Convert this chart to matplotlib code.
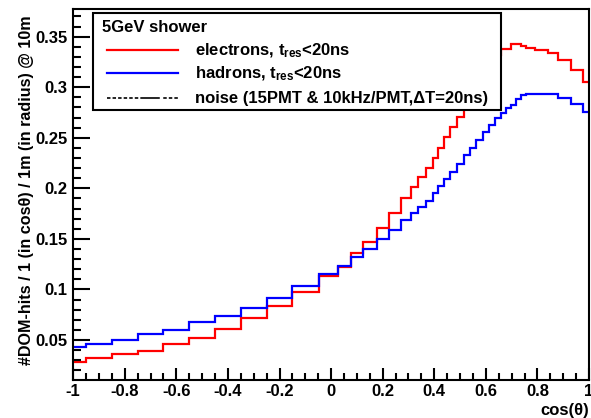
import matplotlib
matplotlib.use('Agg')
import matplotlib.pyplot as plt
from matplotlib.lines import Line2D
from matplotlib.patches import Rectangle
from matplotlib.ticker import MultipleLocator, FuncFormatter

# bin edges in cos(theta)
edges = [-1.0, -0.95, -0.85, -0.75, -0.65, -0.55, -0.45, -0.35, -0.25, -0.15,
         -0.045, 0.026, 0.078, 0.123, 0.177, 0.224, 0.271, 0.311, 0.336, 0.369,
         0.394, 0.414, 0.438, 0.460, 0.489, 0.514, 0.538, 0.563, 0.588, 0.612,
         0.634, 0.660, 0.680, 0.699, 0.718, 0.737, 0.757, 0.789, 0.841, 0.880,
         0.932, 0.977, 1.0]

electrons = [0.0279, 0.0319, 0.0359, 0.0394, 0.0460, 0.0517, 0.0609, 0.0720, 0.0836, 0.0975,
             0.1133, 0.1220, 0.1358, 0.1473, 0.1610, 0.1757, 0.1905, 0.2016, 0.2115, 0.2198,
             0.2297, 0.2396, 0.2511, 0.2610, 0.2709, 0.2820, 0.2920, 0.3020, 0.3120, 0.3220,
             0.3320, 0.3375, 0.3375, 0.3428, 0.3428, 0.3411, 0.3385, 0.3368, 0.3342, 0.3270,
             0.3170, 0.3055]

hadrons = [0.0434, 0.0457, 0.0500, 0.0556, 0.0599, 0.0675, 0.0737, 0.0820, 0.0918, 0.1034,
           0.1153, 0.1235, 0.1318, 0.1397, 0.1500, 0.1590, 0.1690, 0.1756, 0.1819, 0.1878,
           0.1951, 0.2025, 0.2094, 0.2160, 0.2240, 0.2325, 0.2396, 0.2478, 0.2560, 0.2627,
           0.2693, 0.2742, 0.2791, 0.2824, 0.2880, 0.2923, 0.2935, 0.2935, 0.2935, 0.2897,
           0.2834, 0.2758]

legend_title = '5GeV shower'
legend_labels = [r'electrons, $t_{res}$<20ns',
                 r'hadrons, $t_{res}$<20ns',
                 'noise (15PMT & 10kHz/PMT,\u0394T=20ns)']
legend_colors = ['#ff0000', '#0000ff', 'black']

plt.rcParams['font.family'] = ['Liberation Sans', 'DejaVu Sans']
plt.rcParams['font.weight'] = 'bold'
plt.rcParams['axes.unicode_minus'] = False
plt.rcParams['mathtext.fontset'] = 'custom'
plt.rcParams['mathtext.rm'] = 'Liberation Sans:bold'
plt.rcParams['mathtext.it'] = 'Liberation Sans:bold'
plt.rcParams['mathtext.bf'] = 'Liberation Sans:bold'
plt.rcParams['lines.scale_dashes'] = False

W, H = 591, 418
fig = plt.figure(figsize=(W / 100, H / 100), dpi=100)
left, right, top, bottom = 73.2, 589.0, 9.0, 380.0
ax = fig.add_axes([left / W, 1 - bottom / H, (right - left) / W, (bottom - top) / H])

ax.stairs(electrons, edges, color=legend_colors[0], lw=1.6, baseline=None)
ax.stairs(hadrons, edges, color=legend_colors[1], lw=1.6, baseline=None)

ax.set_xlim(-1, 1)
ax.set_ylim(0.0104, 0.3774)

ax.xaxis.set_major_locator(MultipleLocator(0.2))
ax.xaxis.set_minor_locator(MultipleLocator(0.05))
ax.yaxis.set_major_locator(MultipleLocator(0.05))
ax.yaxis.set_minor_locator(MultipleLocator(0.01))
fmt = FuncFormatter(lambda v, p: '%g' % round(v, 4))
ax.xaxis.set_major_formatter(fmt)
ax.yaxis.set_major_formatter(fmt)

ax.tick_params(axis='both', which='both', direction='in', width=1.5, labelsize=12,
               top=False, right=False)
ax.tick_params(axis='y', which='major', length=12, pad=4)
ax.tick_params(axis='y', which='minor', length=6)
ax.tick_params(axis='x', which='major', length=9, pad=3)
ax.tick_params(axis='x', which='minor', length=5)
for s in ax.spines.values():
    s.set_linewidth(1.5)

ax.set_xlabel('cos(\u03b8)', fontsize=12, fontweight='bold', loc='right')
ax.xaxis.set_label_coords(1.0, -0.062)
ax.set_ylabel('#DOM-hits / 1 (in cos\u03b8) / 1m (in radius) @ 10m',
              fontsize=11.6, fontweight='bold', loc='top')
ax.yaxis.set_label_coords(-0.076, 0.982)


# legend box, drawn by hand in pixel positions (ROOT style TLegend)
def fx(px):
    return px / W


def fy(py):
    return 1 - py / H


tf = fig.transFigure
fig.add_artist(Rectangle((fx(92.7), fy(110)), fx(500.7) - fx(92.7), fy(13.3) - fy(110),
                         transform=tf, facecolor='white', edgecolor='black', lw=1.5, zorder=5))
fig.text(fx(101.7), fy(32), legend_title, fontsize=12, fontweight='bold',
         va='baseline', ha='left', zorder=6)
line_y = [50, 73, 98]
base_y = [55.5, 78.5, 103]
noise_dash = [2.5, 1.5] * 6 + [14, 2.5]
styles = [dict(lw=1.6), dict(lw=1.6), dict(lw=1.2, dashes=noise_dash)]
for lab, col, ly, by, st in zip(legend_labels, legend_colors, line_y, base_y, styles):
    fig.add_artist(Line2D([fx(107), fx(178)], [fy(ly), fy(ly)], color=col,
                          transform=tf, zorder=6, **st))
    fig.text(fx(195), fy(by), lab, fontsize=12, fontweight='bold',
             va='baseline', ha='left', zorder=6)

fig.savefig('out.png', dpi=100)
